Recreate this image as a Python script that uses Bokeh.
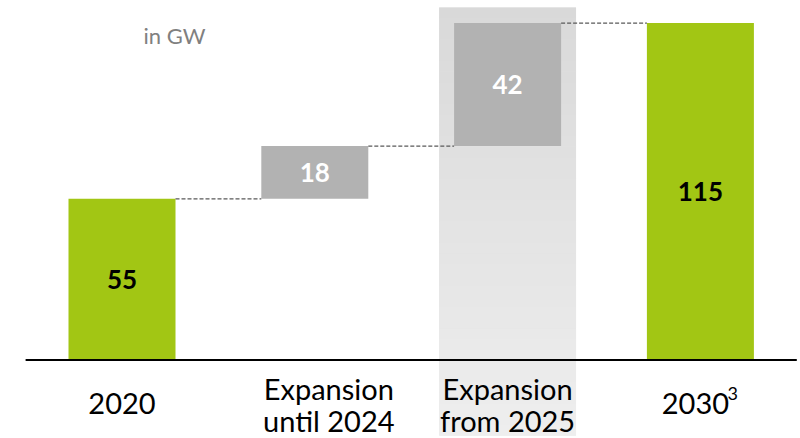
import numpy as np
from bokeh.plotting import figure
from bokeh.models import Range1d, ColumnDataSource, Label
from bokeh.core.properties import value
from bokeh.embed import file_html
from bokeh.resources import INLINE

# ---- data ----
categories = ["2020", "Expansion\nuntil 2024", "Expansion\nfrom 2025", "2030"]
values = [55, 18, 42, 115]
kinds = ["total", "delta", "delta", "total"]
label_colors = ["#000000", "#ffffff", "#ffffff", "#000000"]
highlight_index = 2
unit_text = "in GW"
footnote_mark = "3"

# ---- waterfall geometry from data ----
bottoms, tops = [], []
running = 0
for v, k in zip(values, kinds):
    if k == "total":
        bottoms.append(0)
        tops.append(v)
        running = v
    else:
        bottoms.append(running)
        running += v
        tops.append(running)

xs = list(range(len(values)))
BAR_W = 0.555
GREEN = "#a2c614"
GRAY = "#b2b2b2"
colors = [GREEN if k == "total" else GRAY for k in kinds]
FONT = value("Lato")

p = figure(width=800, height=438, output_backend="svg", toolbar_location=None,
           x_range=Range1d(-0.6302, 3.5192), y_range=Range1d(-26.79, 122.70),
           min_border=0)
p.xaxis.visible = False
p.yaxis.visible = False
p.xgrid.visible = False
p.ygrid.visible = False
p.outline_line_color = None
p.background_fill_color = "white"
p.border_fill_color = "white"

# highlight band with vertical gradient
band_bottom, band_top = -25.8, 120.3
hw = 0.355
p.quad(left=[highlight_index - hw], right=[highlight_index + hw],
       bottom=[band_bottom], top=[band_top], fill_color="#e3e3e3", line_color=None)
n_strips = 40
edges = np.linspace(band_bottom, band_top, n_strips + 1)
c_bot = np.array([0xee, 0xee, 0xee])
c_top = np.array([0xd9, 0xd9, 0xd9])
strip_cols = []
for i in range(n_strips):
    t = (i + 0.5) / n_strips
    c = (c_bot + (c_top - c_bot) * t).round().astype(int)
    strip_cols.append("#%02x%02x%02x" % tuple(c))
tops_e = list(edges[1:] + 0.15)
tops_e[-1] = edges[-1]
p.quad(left=[highlight_index - hw] * n_strips, right=[highlight_index + hw] * n_strips,
       bottom=edges[:-1], top=tops_e, fill_color=strip_cols, line_color=None)

# bars
src = ColumnDataSource(dict(x=xs, bottom=bottoms, top=tops, color=colors,
                            mid=[(b + t) / 2 for b, t in zip(bottoms, tops)],
                            txt=[str(v) for v in values], tc=label_colors))
p.vbar(x="x", width=BAR_W, bottom="bottom", top="top", fill_color="color",
       line_color=None, source=src)

# connectors
cx0 = [x + BAR_W / 2 for x in xs[:-1]]
cx1 = [x + 1 - BAR_W / 2 for x in xs[:-1]]
cy = tops[:-1]
p.segment(x0=cx0, x1=cx1, y0=cy, y1=cy, line_color="#595959", line_width=1.2,
          line_dash="4 2")

# value labels
p.text(x="x", y="mid", text="txt", text_color="tc", text_font=FONT,
       text_font_size="26px", text_font_style="bold", text_align="center",
       text_baseline="middle", source=src)

# baseline
p.segment(x0=[-0.5], x1=[3.5], y0=[0], y1=[0], line_color="black", line_width=2)

# category labels
lab_offsets = [0, 14, 0, -5]
single_x, single_t, single_off = [], [], []
l1x, l1t, l1off, l2x, l2t, l2off = [], [], [], [], [], []
for i, c in enumerate(categories):
    parts = c.split("\n")
    if len(parts) == 1:
        single_x.append(i); single_t.append(parts[0]); single_off.append(lab_offsets[i])
    else:
        l1x.append(i); l1t.append(parts[0]); l1off.append(lab_offsets[i])
        l2x.append(i); l2t.append(parts[1]); l2off.append(lab_offsets[i])

p.text(x=single_x, y=[-15.0] * len(single_x), text=single_t, x_offset=single_off,
       text_font=FONT, text_font_size="29px", text_color="#000000",
       text_align="center", text_baseline="alphabetic")
p.text(x=l1x, y=[-9.7] * len(l1x), text=l1t, x_offset=l1off,
       text_font=FONT, text_font_size="29px", text_color="#000000",
       text_align="center", text_baseline="alphabetic")
p.text(x=l2x, y=[-20.5] * len(l2x), text=l2t, x_offset=l2off,
       text_font=FONT, text_font_size="29px", text_color="#000000",
       text_align="center", text_baseline="alphabetic")
# superscript footnote on last label
p.text(x=[len(categories) - 1], y=[-11.3], text=[footnote_mark], x_offset=[27],
       text_font=FONT, text_font_size="18px", text_color="#000000",
       text_align="left", text_baseline="alphabetic")

# unit label
p.add_layout(Label(x=143, y=403, x_units="screen", y_units="screen", text=unit_text,
                   text_font="Lato", text_font_size="22px", text_color="#808080",
                   text_baseline="alphabetic"))

open("out.html", "w").write(file_html(p, INLINE))
